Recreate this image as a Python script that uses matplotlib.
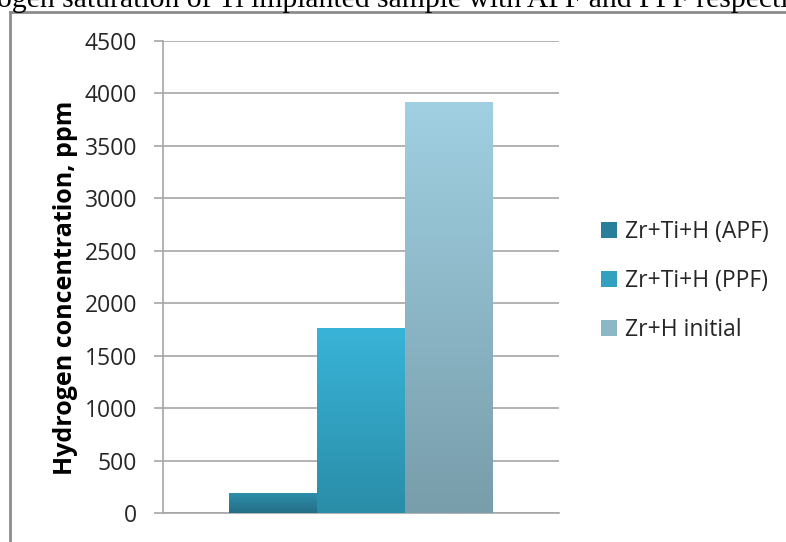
import matplotlib
matplotlib.use("Agg")
import matplotlib.pyplot as plt
import numpy as np
from matplotlib.colors import LinearSegmentedColormap
from matplotlib.lines import Line2D
from matplotlib.patches import Patch

series = ["Zr+Ti+H (APF)", "Zr+Ti+H (PPF)", "Zr+H initial"]
values = [195, 1765, 3920]
top_colors = ["#2f90ac", "#39b4d8", "#a0d0e2"]
bottom_colors = ["#236e86", "#2a8da8", "#789dab"]
yticks = [0, 500, 1000, 1500, 2000, 2500, 3000, 3500, 4000, 4500]
ylabel = "Hydrogen concentration, ppm"
caption = "ogen saturation of Ti implanted sample with APF and PPF respecti"

W, H = 786, 542
fig = plt.figure(figsize=(W / 100, H / 100), dpi=100)
ax = fig.add_axes([163 / W, 1 - 513 / H, 396 / W, 472 / H])

width = 1 / 4.5
offsets = [-width, 0, width]
grad = np.linspace(0, 1, 256).reshape(-1, 1)

for off, val, c_top, c_bot, name in zip(offsets, values, top_colors,
                                        bottom_colors, series):
    bar = ax.bar(off, val, width, color=c_top, zorder=3, linewidth=0)[0]
    cmap = LinearSegmentedColormap.from_list(name, [c_bot, c_top])
    im = ax.imshow(grad, cmap=cmap, aspect="auto", origin="lower",
                   extent=[off - width / 2, off + width / 2, 0, val], zorder=4)
    im.set_clip_path(bar)

ax.set_xlim(-0.5, 0.5)
ax.set_ylim(0, 4500)
ax.set_yticks(yticks)
ax.set_xticks([])
ax.grid(axis="y", color="#a6a6a6", linewidth=1.2, zorder=0)
ax.set_axisbelow(True)
for side in ["top", "right"]:
    ax.spines[side].set_visible(False)
for side in ["left", "bottom"]:
    ax.spines[side].set_color("#a6a6a6")
    ax.spines[side].set_linewidth(1.2)
ax.tick_params(axis="y", length=6.5, width=1.2, color="#a6a6a6",
               labelsize=16.5, labelcolor="#262626", pad=12)
for lbl in ax.get_yticklabels():
    lbl.set_fontfamily("Open Sans")

fig.text(66 / W, 1 - 288 / H, ylabel, rotation=90, ha="center", va="center",
         fontsize=18, fontweight="bold", family="Open Sans")

handles = [Patch(facecolor=(np.array(matplotlib.colors.to_rgb(t)) +
                            np.array(matplotlib.colors.to_rgb(b))) / 2,
                 edgecolor="none") for t, b in zip(top_colors, bottom_colors)]
fig.legend(handles, series, loc="center left",
           bbox_to_anchor=(580 / W, 1 - 281 / H), frameon=False,
           prop={"family": "Open Sans", "size": 16.5}, handlelength=0.7,
           handleheight=0.7, handletextpad=0.35, labelspacing=1.08,
           labelcolor="#262626")

# frame of the embedded chart and the cut-off caption above it
fig.add_artist(Line2D([10 / W, 10 / W], [0, 1 - 12 / H], color="#8c8c8c",
                      linewidth=2))
fig.add_artist(Line2D([10 / W, 1], [1 - 12 / H, 1 - 12 / H], color="#8c8c8c",
                      linewidth=2))
fig.text(-3 / W, 1 - 7 / H, caption, family="Liberation Serif", fontsize=21.3,
         ha="left", va="baseline")

fig.savefig("out.png", dpi=100)
